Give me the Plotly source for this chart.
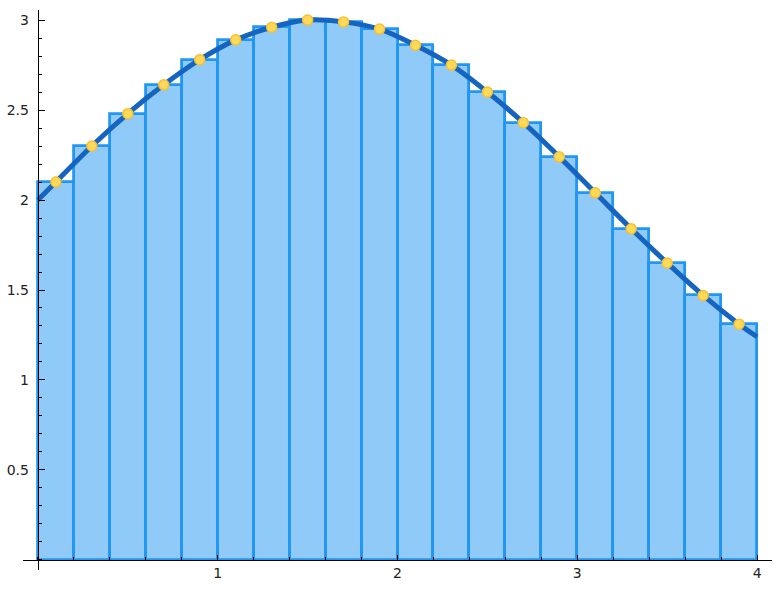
import plotly.graph_objects as go

# Midpoint Riemann sum data
mid_x = [0.1, 0.3, 0.5, 0.7, 0.9, 1.1, 1.3, 1.5, 1.7, 1.9,
         2.1, 2.3, 2.5, 2.7, 2.9, 3.1, 3.3, 3.5, 3.7, 3.9]
mid_y = [2.10, 2.30, 2.48, 2.64, 2.78, 2.89, 2.96, 3.00, 2.99, 2.95,
         2.86, 2.75, 2.60, 2.43, 2.24, 2.04, 1.84, 1.65, 1.47, 1.31]
bar_width = 0.2

# Curve samples
curve_x = [0.0] + mid_x + [4.0]
curve_y = [2.00] + mid_y + [1.24]

x_ticks = [1, 2, 3, 4]
y_ticks = [0.5, 1, 1.5, 2, 2.5, 3]

x_range = [-0.083, 4.083]
y_range = [-0.056, 3.056]

fig = go.Figure()
fig.add_trace(go.Bar(
    x=mid_x, y=mid_y, width=bar_width,
    marker=dict(color="#90CAF9", line=dict(color="#2196F3", width=2.8)),
    showlegend=False,
))
fig.add_trace(go.Scatter(
    x=curve_x, y=curve_y, mode="lines",
    line=dict(color="#1565C0", width=5, shape="spline", smoothing=1.0),
    showlegend=False,
))
fig.add_trace(go.Scatter(
    x=mid_x, y=mid_y, mode="markers",
    marker=dict(color="#FFD95A", size=10, line=dict(color="#FBC02D", width=1.5)),
    showlegend=False,
))

xpos = (0 - y_range[0]) / (y_range[1] - y_range[0])
ypos = (0 - x_range[0]) / (x_range[1] - x_range[0])

fig.update_layout(
    template="none",
    width=781, height=590,
    margin=dict(l=23, r=9, t=10, b=20, autoexpand=False),
    plot_bgcolor="white", paper_bgcolor="white",
    font=dict(family="DejaVu Sans", size=14, color="#222"),
    bargap=0,
    xaxis=dict(
        range=x_range, showgrid=False, zeroline=False, automargin=False,
        showline=True, linecolor="black", linewidth=1.3,
        anchor="free", position=xpos,
        tickvals=x_ticks, ticks="inside", ticklen=5, tickcolor="black",
        minor=dict(dtick=0.2, tick0=0, ticks="inside", ticklen=3, tickcolor="black"),
    ),
    yaxis=dict(
        range=y_range, showgrid=False, zeroline=False, automargin=False,
        showline=True, linecolor="black", linewidth=1.3,
        anchor="free", position=ypos,
        tickvals=y_ticks, ticks="inside", ticklen=6, tickcolor="black",
        minor=dict(dtick=0.1, tick0=0, ticks="inside", ticklen=3, tickcolor="black"),
        ticklabelstandoff=6,
    ),
)

fig.write_html("out.html", config={"displayModeBar": False},
               post_script="document.body.style.margin='0';")
